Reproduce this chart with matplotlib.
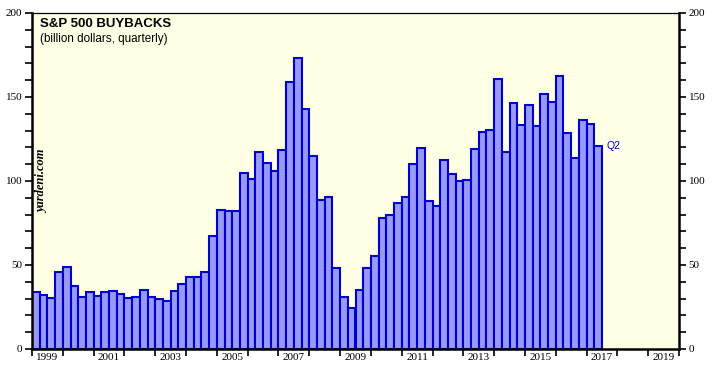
import numpy as np
import matplotlib
matplotlib.use("Agg")
import matplotlib.pyplot as plt
from matplotlib.ticker import MultipleLocator, FixedLocator

# quarterly buybacks, billion dollars, 1999 Q1 .. 2017 Q2
buybacks = [
    34, 32, 30.6, 45.6, 49, 37.6, 31, 34,
    31.4, 33.8, 34.6, 33, 30.4, 31, 35.4, 30.8,
    30, 28.6, 34.4, 38.8, 43, 42.6, 46, 67,
    82.5, 82, 82, 105, 101, 117.4, 110.6, 106,
    118.6, 159, 173, 142.6, 114.6, 88.4, 90.4, 48.4,
    31, 24.4, 35, 48, 55.6, 78, 80, 87,
    90.6, 110, 119.4, 88, 85, 112.5, 104.4, 99.8,
    100.6, 119, 129.4, 130.6, 160.6, 117, 146.4, 133.6,
    145, 132.6, 151.8, 147, 162.6, 128.4, 113.4, 136.2,
    134.2, 121,
]
start_year = 1999
end_year = 2020
years = start_year + np.arange(len(buybacks)) * 0.25

bg = "#ffffe6"
fill = "#9999ff"
edge = "#0000cc"

fig = plt.figure(figsize=(7.14, 3.71), dpi=100)
ax = fig.add_axes([32 / 714, 22 / 371, 647 / 714, 336 / 371])
ax.set_facecolor(bg)

ax.bar(years, buybacks, width=0.25, align="edge", color=fill,
       edgecolor=edge, linewidth=1.5, zorder=2)

ax.set_xlim(start_year, end_year)
ax.set_ylim(0, 200)

# y axis on both sides
ax.yaxis.set_major_locator(MultipleLocator(50))
ax.yaxis.set_minor_locator(MultipleLocator(10))
ax.tick_params(axis="y", which="both", left=True, right=True,
               labelleft=True, labelright=True, direction="out",
               width=1.2, color="black", labelsize=8, pad=2, length=5)

# x: ticks at each year, labels at mid odd years
ax.xaxis.set_major_locator(FixedLocator(np.arange(start_year, end_year + 1)))
ax.xaxis.set_minor_locator(FixedLocator(np.arange(start_year, end_year, 2) + 0.5))
ax.set_xticklabels([], minor=False)
ax.set_xticklabels([str(y) for y in range(start_year, end_year, 2)], minor=True)
ax.tick_params(axis="x", which="major", direction="out", length=5,
               width=1.2, color="black")
ax.tick_params(axis="x", which="minor", length=0, labelsize=8, pad=3)

for lab in ax.get_xticklabels(minor=True):
    lab.set_family("Liberation Serif")
for t in ax.yaxis.get_major_ticks():
    t.label1.set_family("Liberation Serif")
    t.label2.set_family("Liberation Serif")

for s in ["left", "right", "bottom"]:
    ax.spines[s].set_linewidth(1.8)
ax.spines["top"].set_linewidth(0.9)

ax.text(0.0125, 0.985, "S&P 500 BUYBACKS", transform=ax.transAxes,
        fontsize=9.5, fontweight="bold", family="Liberation Sans",
        va="top", ha="left")
ax.text(0.0125, 0.94, "(billion dollars, quarterly)", transform=ax.transAxes,
        fontsize=8.4, family="Liberation Sans", va="top", ha="left")
ax.text(0.0165, 0.5, "yardeni.com", transform=ax.transAxes, rotation=90,
        fontsize=9, family="Liberation Serif", style="italic",
        fontweight="bold", va="center", ha="center")

ax.annotate("Q2", xy=(years[-1] + 0.25, buybacks[-1]), xytext=(3, 0),
            textcoords="offset points", color=edge, fontsize=7.5,
            family="Liberation Sans", va="center", ha="left")

fig.savefig("out.png", dpi=100, facecolor="white")
